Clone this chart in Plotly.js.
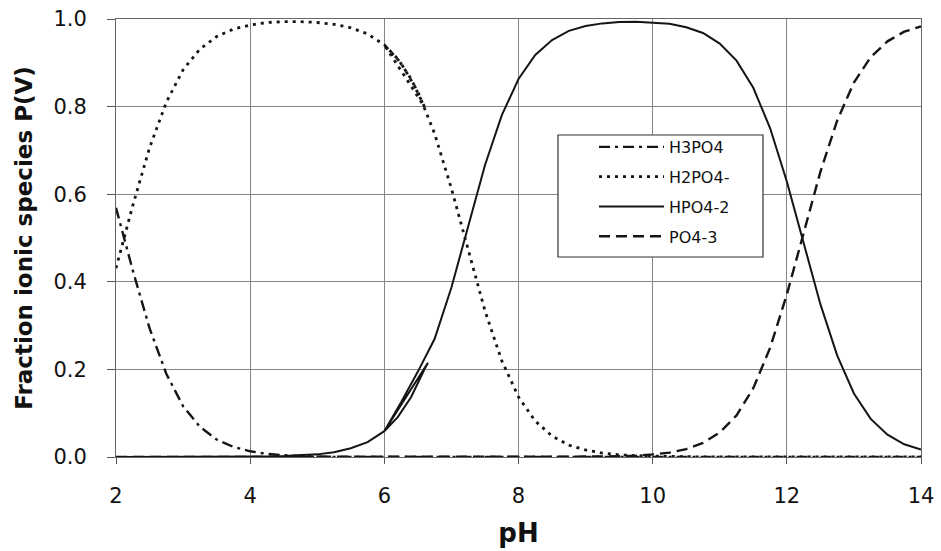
<!DOCTYPE html>
<html>
<head>
<meta charset="utf-8">
<script src="https://cdn.plot.ly/plotly-3.0.1.min.js"></script>
<style>
  html, body { margin: 0; padding: 0; background: #ffffff; }
  #chart { width: 941px; height: 551px; }
</style>
</head>
<body>
<div id="chart"></div>
<script>
// pH grid shared by the H3PO4 and PO4-3 series
const phGrid = [2, 2.25, 2.5, 2.75, 3, 3.25, 3.5, 3.75, 4, 4.25, 4.5, 4.75, 5, 5.25, 5.5, 5.75,
  6, 6.25, 6.5, 6.75, 7, 7.25, 7.5, 7.75, 8, 8.25, 8.5, 8.75, 9, 9.25, 9.5, 9.75,
  10, 10.25, 10.5, 10.75, 11, 11.25, 11.5, 11.75, 12, 12.25, 12.5, 12.75, 13, 13.25, 13.5, 13.75, 14];

const h3po4 = [0.569, 0.426, 0.294, 0.190, 0.116, 0.069, 0.040, 0.023, 0.013, 0.007, 0.004, 0.002, 0.001,
  0, 0, 0, 0, 0, 0, 0, 0, 0, 0, 0, 0, 0, 0, 0, 0, 0, 0, 0, 0, 0, 0, 0, 0, 0, 0, 0, 0, 0, 0, 0, 0, 0, 0, 0, 0];

const po4 = [0, 0, 0, 0, 0, 0, 0, 0, 0, 0, 0, 0, 0, 0, 0, 0, 0, 0, 0, 0, 0, 0, 0, 0, 0, 0, 0, 0,
  0.001, 0.001, 0.002, 0.003, 0.006, 0.010, 0.018, 0.032, 0.056, 0.095, 0.157, 0.249,
  0.371, 0.512, 0.651, 0.768, 0.855, 0.913, 0.949, 0.971, 0.983];

// H2PO4- : the 6.0-6.6 stretch was recorded twice (fine sweep, then back to 6.0)
const h2po4X = [2, 2.25, 2.5, 2.75, 3, 3.25, 3.5, 3.75, 4, 4.25, 4.5, 4.75, 5, 5.25, 5.5, 5.75, 6,
  6.2, 6.4, 6.6, 6.0,
  6.25, 6.5, 6.75, 7, 7.25, 7.5, 7.75, 8, 8.25, 8.5, 8.75, 9, 9.25, 9.5, 9.75,
  10, 10.25, 10.5, 10.75, 11, 11.25, 11.5, 11.75, 12, 12.25, 12.5, 12.75, 13, 13.25, 13.5, 13.75, 14];
const h2po4 = [0.431, 0.574, 0.706, 0.810, 0.884, 0.931, 0.960, 0.977, 0.986, 0.992, 0.994, 0.994, 0.992, 0.988, 0.980, 0.966, 0.941,
  0.909, 0.863, 0.799, 0.941,
  0.899, 0.834, 0.738, 0.613, 0.471, 0.334, 0.220, 0.137, 0.082, 0.048, 0.027, 0.016, 0.009, 0.005, 0.003,
  0.002, 0.001, 0, 0, 0, 0, 0, 0, 0, 0, 0, 0, 0, 0, 0, 0, 0];

// HPO4-2 : same repeated stretch between pH 6.0 and 6.65
const hpo4X = [2, 2.25, 2.5, 2.75, 3, 3.25, 3.5, 3.75, 4, 4.25, 4.5, 4.75, 5, 5.25, 5.5, 5.75, 6,
  6.2, 6.4, 6.6, 6.65, 6.0,
  6.25, 6.5, 6.75, 7, 7.25, 7.5, 7.75, 8, 8.25, 8.5, 8.75, 9, 9.25, 9.5, 9.75,
  10, 10.25, 10.5, 10.75, 11, 11.25, 11.5, 11.75, 12, 12.25, 12.5, 12.75, 13, 13.25, 13.5, 13.75, 14];
const hpo4 = [0, 0, 0, 0, 0, 0, 0, 0, 0.001, 0.001, 0.002, 0.004, 0.006, 0.011, 0.020, 0.034, 0.059,
  0.091, 0.137, 0.201, 0.215, 0.059,
  0.125, 0.195, 0.270, 0.387, 0.529, 0.666, 0.780, 0.863, 0.918, 0.952, 0.973, 0.984, 0.990, 0.993, 0.994,
  0.992, 0.989, 0.981, 0.968, 0.944, 0.905, 0.843, 0.751, 0.629, 0.488, 0.349, 0.232, 0.145, 0.087, 0.051, 0.029, 0.017];

const seriesNames = ['H3PO4', 'H2PO4-', 'HPO4-2', 'PO4-3'];
const xTicks = [2, 4, 6, 8, 10, 12, 14];
const yTicks = [0, 0.2, 0.4, 0.6, 0.8, 1.0];
const yTickText = ['0.0', '0.2', '0.4', '0.6', '0.8', '1.0'];

const ink = '#151515';
const traces = [
  { x: phGrid, y: h3po4, name: seriesNames[0], legendgroup: 'a',
    line: { color: ink, width: 2.4, dash: '11px,5px,3px,5px' } },
  { x: h2po4X, y: h2po4, name: seriesNames[1], legendgroup: 'b',
    line: { color: ink, width: 2.8, dash: '3px,5px' } },
  { x: hpo4X, y: hpo4, name: seriesNames[2], legendgroup: 'c',
    line: { color: ink, width: 2 } },
  { x: phGrid, y: po4, name: seriesNames[3], legendgroup: 'd',
    line: { color: ink, width: 2.4, dash: '11px,6px' } }
].map(t => Object.assign({ type: 'scatter', mode: 'lines', hoverinfo: 'skip' }, t));

const W = 941, H = 551;
const M = { l: 116, r: 20, t: 19, b: 94 };
const plotW = W - M.l - M.r, plotH = H - M.t - M.b;
// legend frame in pixel terms, converted to paper fractions
const box = { left: 558, right: 763, top: 135, bottom: 257 };
const px = v => (v - M.l) / plotW;
const py = v => (H - M.b - v) / plotH;

const gridCol = '#858585';
const layout = {
  width: W, height: H,
  margin: { l: M.l, r: M.r, t: M.t, b: M.b, pad: 0 },
  paper_bgcolor: '#ffffff', plot_bgcolor: '#ffffff',
  font: { family: 'DejaVu Sans, Arial, sans-serif', color: '#111111' },
  xaxis: {
    range: [2, 14], tickvals: xTicks, ticktext: xTicks.map(String),
    ticks: 'outside', ticklen: 6, tickwidth: 1, tickcolor: '#555',
    showgrid: true, gridcolor: gridCol, gridwidth: 1, zeroline: false,
    showline: true, linecolor: '#666', linewidth: 1, mirror: true,
    tickfont: { size: 21, color: '#111' }, ticklabelstandoff: 14,
    title: { text: 'pH', font: { size: 26, weight: 'bold', color: '#111' }, standoff: 16 }
  },
  yaxis: {
    range: [0, 1], tickvals: yTicks, ticktext: yTickText,
    ticks: 'outside', ticklen: 8, tickwidth: 1, tickcolor: '#555',
    showgrid: true, gridcolor: gridCol, gridwidth: 1, zeroline: false,
    showline: true, linecolor: '#666', linewidth: 1, mirror: true,
    tickfont: { size: 21, color: '#111' }, ticklabelstandoff: 16,
    title: { text: 'Fraction ionic species P(V)', font: { size: 23, weight: 'bold', color: '#111' }, standoff: 14 }
  },
  showlegend: true,
  legend: {
    x: px(594), y: py(130), xanchor: 'left', yanchor: 'top',
    bgcolor: 'rgba(0,0,0,0)', borderwidth: 0,
    font: { size: 16, color: '#111' }, itemwidth: 65, tracegroupgap: 6
  },
  shapes: [{
    type: 'rect', xref: 'paper', yref: 'paper', layer: 'above',
    x0: px(box.left), x1: px(box.right), y0: py(box.bottom), y1: py(box.top),
    line: { color: '#333', width: 1.2 }, fillcolor: '#ffffff'
  }]
};

Plotly.newPlot('chart', traces, layout, { staticPlot: true, displayModeBar: false });
</script>
</body>
</html>
